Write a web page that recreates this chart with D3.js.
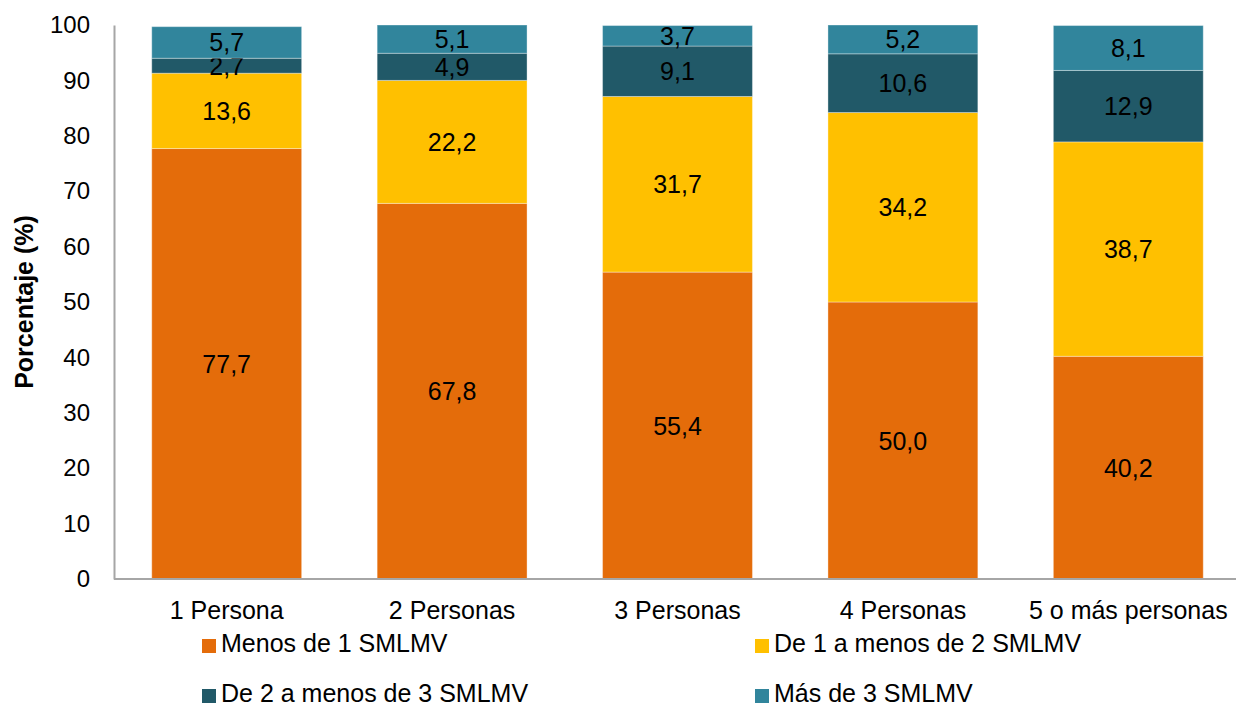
<!DOCTYPE html>
<html><head><meta charset="utf-8">
<script src="https://cdn.jsdelivr.net/npm/d3@7"></script>
<style>body{margin:0;background:#fff}svg{display:block}text{font-family:"Liberation Sans",Arial,sans-serif;fill:#000}</style>
</head><body><svg id="c" width="1236" height="708"></svg>
<script>
const categories = ["1 Persona","2 Personas","3 Personas","4 Personas","5 o más personas"];
const seriesNames = ["Menos de 1 SMLMV","De 1 a menos de 2 SMLMV","De 2 a menos de 3 SMLMV","Más de 3 SMLMV"];
const menos1 = [77.7,67.8,55.4,50.0,40.2];
const de1a2 = [13.6,22.2,31.7,34.2,38.7];
const de2a3 = [2.7,4.9,9.1,10.6,12.9];
const mas3 = [5.7,5.1,3.7,5.2,8.1];
const yTicks = [0,10,20,30,40,50,60,70,80,90,100];
const colors = ["#E46C0A","#FFC000","#215968","#31859C"];

const series = [menos1, de1a2, de2a3, mas3];
const rows = categories.map((c,i)=>{const r={cat:c}; seriesNames.forEach((s,j)=>r[s]=series[j][i]); return r;});
const stacked = d3.stack().keys(seriesNames)(rows);

const svg = d3.select("#c");
const x = d3.scaleBand().domain(categories).range([114,1241]).paddingInner(0.335).paddingOuter(0.1675);
const y = d3.scaleLinear().domain([0,100]).range([579,25]);

const g = svg.append("g");
stacked.forEach((s,j)=>{
  g.selectAll(null).data(s).enter().append("rect")
    .attr("x",d=>x(d.data.cat)).attr("width",x.bandwidth())
    .attr("y",d=>y(d[1])).attr("height",d=>y(d[0])-y(d[1]))
    .attr("fill",colors[j]).attr("stroke","rgba(255,255,255,0.35)").attr("stroke-width",1);
  g.selectAll(null).data(s).enter().append("text")
    .attr("x",d=>x(d.data.cat)+x.bandwidth()/2).attr("y",d=>(y(d[0])+y(d[1]))/2)
    .attr("dy","0.36em").attr("text-anchor","middle").style("font-size","25px")
    .text(d=>d3.format(".1f")(d[1]-d[0]).replace(".",","));
});

// axes
const ya = svg.append("g").attr("transform","translate(114,0)")
  .call(d3.axisLeft(y).tickValues(yTicks).tickSize(0).tickPadding(24));
ya.select(".domain").attr("stroke","#a6a6a6").attr("stroke-width",2);
ya.selectAll("text").style("font-size","24px").style("font-family","Liberation Sans, Arial, sans-serif");

const xa = svg.append("g").attr("transform","translate(0,579)")
  .call(d3.axisBottom(x).tickSize(0).tickPadding(22));
xa.select(".domain").attr("stroke","#a6a6a6").attr("stroke-width",2).attr("d","M114,0H1241");
xa.selectAll("text").style("font-size","25px").style("font-family","Liberation Sans, Arial, sans-serif");
// keep labels within the page edge
xa.selectAll(".tick").each(function(){
  const t = d3.select(this).select("text");
  const bb = this.getBoundingClientRect();
  if (bb.right > 1234) t.attr("dx", (1234 - bb.right));
});

svg.append("text").attr("transform","translate(33,302) rotate(-90)").attr("text-anchor","middle")
  .style("font-size","25px").style("font-weight","bold").text("Porcentaje (%)");

// legend (y = text baseline)
const legPos = [[202,652],[755,652],[202,702],[755,702]];
seriesNames.forEach((s,j)=>{
  const lg = svg.append("g").attr("transform",`translate(${legPos[j][0]},${legPos[j][1]})`);
  lg.append("rect").attr("x",0).attr("y",-13).attr("width",14).attr("height",14).attr("fill",colors[j]);
  lg.append("text").attr("x",19).attr("y",0).style("font-size","25px").text(s);
});
</script></body></html>
